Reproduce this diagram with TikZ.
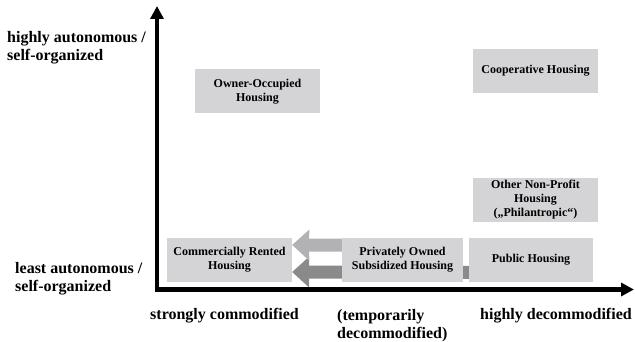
\documentclass[tikz,border=0pt]{standalone}
\usepackage{fontspec}
\setmainfont{Liberation Serif}
\usepackage{tikz}
\usetikzlibrary{arrows.meta,positioning,backgrounds}
\definecolor{boxgray}{RGB}{212,212,214}
\definecolor{lightarrow}{RGB}{178,178,180}
\definecolor{darkarrow}{RGB}{138,138,140}

\begin{document}
\begin{tikzpicture}[x=1pt,y=-1pt,
    housing/.style={fill=boxgray, minimum width=125pt, minimum height=44pt,
      inner sep=1pt, align=center, font=\fontsize{12}{14}\selectfont\bfseries},
    axislabel/.style={inner sep=0pt, align=left, font=\fontsize{16}{18}\selectfont\bfseries},
    flow/.style={line width=13pt, -{Triangle[length=17pt,width=31pt,line width=0pt]}}]
    \useasboundingbox (0,0) rectangle (635,342);
    \coordinate (origin) at (157,289.5);
    \coordinate (ytop) at (157,6);
    \coordinate (xend) at (634,289.5);
    \draw[line width=4.5pt, {Triangle[length=13pt,width=13pt]}-{Triangle[length=13pt,width=13pt]}]
      (ytop) -- (origin) -- (xend);

    \node[housing] (own) at (257.5,91.5) {Owner-Occupied\\Housing};
    \node[housing] (coop) at (535.5,71) {Cooperative Housing};
    \node[housing] (nonprofit) at (535.5,200) {Other Non-Profit\\Housing\\(„Philantropic“)};
    \node[housing, minimum width=124pt] (pub) at (531,260) {Public Housing};
    \node[housing, minimum width=121pt] (priv) at (402.5,260) {Privately Owned\\Subsidized Housing};
    \node[housing] (comm) at (229.5,259.5) {Commercially Rented\\Housing};
    \begin{scope}[on background layer]
      \draw[flow, darkarrow] ([yshift=-12.5pt]pub.west) -- ([yshift=-12.5pt]comm.east);
      \draw[flow, lightarrow] ([yshift=14.5pt]priv.center) -- ([yshift=14.5pt]comm.east);
    \end{scope}

    \node[axislabel, anchor=north west] (hiauto) at (7,31) {highly autonomous /\\self-organized};
    \node[axislabel, anchor=north west] (loauto) at (15,262) {least autonomous /\\self-organized};
    \node[axislabel, anchor=base west] (strong) at (150,319) {strongly commodified};
    \node[axislabel, anchor=north west] (temp) at (337,309) {(temporarily\\decommodified)};
    \node[axislabel, anchor=base west] (highdec) at (480,319) {highly decommodified};
\end{tikzpicture}
\end{document}
